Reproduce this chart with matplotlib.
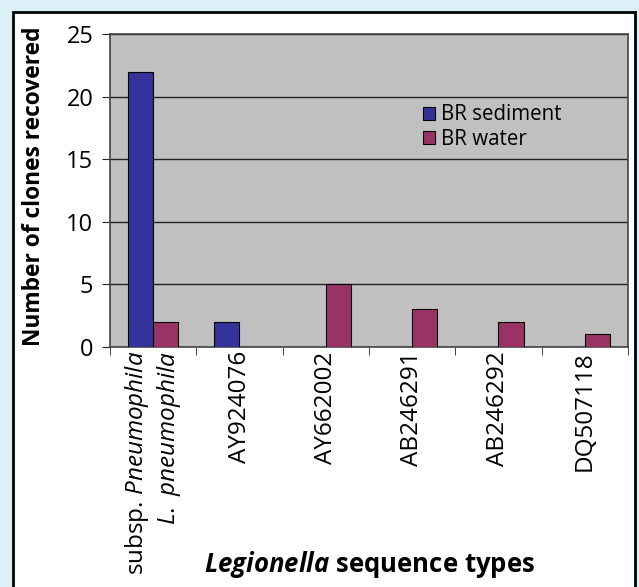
import numpy as np
import matplotlib
matplotlib.use("Agg")
from matplotlib import pyplot as plt
from matplotlib.patches import Rectangle

plt.rcParams["font.family"] = "Open Sans"
plt.rcParams["mathtext.fontset"] = "custom"
plt.rcParams["mathtext.rm"] = "Open Sans"
plt.rcParams["mathtext.it"] = "Open Sans:italic"
plt.rcParams["mathtext.bf"] = "Open Sans:bold"
plt.rcParams["mathtext.bfit"] = "Open Sans:italic:bold"

categories = ["subsp. $\\it{Pneumophila}$\n$\\it{L.\\ pneumophila}$",
              "AY924076", "AY662002", "AB246291", "AB246292", "DQ507118"]
sediment = [22, 2, 0, 0, 0, 0]
water = [2, 0, 5, 3, 2, 1]

fig = plt.figure(figsize=(6.39, 5.87), dpi=100)
fig.patch.set_facecolor("#dcf0f8")
# white panel with black frame
fig.patches.append(Rectangle((13 / 639, -0.01), 622 / 639, 1 - 12 / 587 + 0.01,
                             transform=fig.transFigure, facecolor="white",
                             edgecolor="black", linewidth=2, zorder=-5))

ax = fig.add_axes([110 / 639, 1 - 347 / 587, 518 / 639, 313 / 587])
ax.set_zorder(2)
ax.set_facecolor("#c0c0c0")

x = np.arange(len(categories))
w = 0.29
ax.bar(x - w / 2, sediment, w, color="#333399", edgecolor="black", linewidth=0.8,
       label="BR sediment", zorder=3)
ax.bar(x + w / 2, water, w, color="#993366", edgecolor="black", linewidth=0.8,
       label="BR water", zorder=3)

ax.set_xlim(-0.5, len(categories) - 0.5)
ax.set_ylim(0, 25)
ax.set_yticks([0, 5, 10, 15, 20, 25])
ax.yaxis.grid(True, color="#222222", linewidth=1, zorder=1)
ax.set_axisbelow(True)

ax.set_xticks(x)
ax.set_xticklabels(categories, rotation=90, fontsize=17.5, va="top", ha="center",
                   multialignment="right")
ax.tick_params(axis="x", length=0, pad=3)
ax.set_xticks(np.arange(-0.5, len(categories)), minor=True)
ax.tick_params(axis="x", which="minor", length=6, direction="out", color="#222222")
ax.tick_params(axis="y", labelsize=17, length=6, direction="out", color="#222222", pad=6)

for s in ax.spines.values():
    s.set_color("#444444")
    s.set_linewidth(1.2)

ax.set_ylabel("Number of clones recovered", fontsize=16.4, fontweight="bold")
ax.yaxis.label.set_va("center")
ax.yaxis.set_label_coords(-76 / 518, 0.514)
fig.text(370 / 639, 1 - 565 / 587, "$\\mathbfit{Legionella}$ sequence types",
         fontsize=18.5, fontweight="bold", ha="center", va="center")

ax.legend(loc="upper left", bbox_to_anchor=(0.604, 0.775), frameon=False, fontsize=14.8,
          handlelength=0.6, handleheight=0.6, handletextpad=0.3, labelspacing=0.15,
          borderpad=0, borderaxespad=0)

fig.savefig("out.png", dpi=100, facecolor=fig.get_facecolor())
